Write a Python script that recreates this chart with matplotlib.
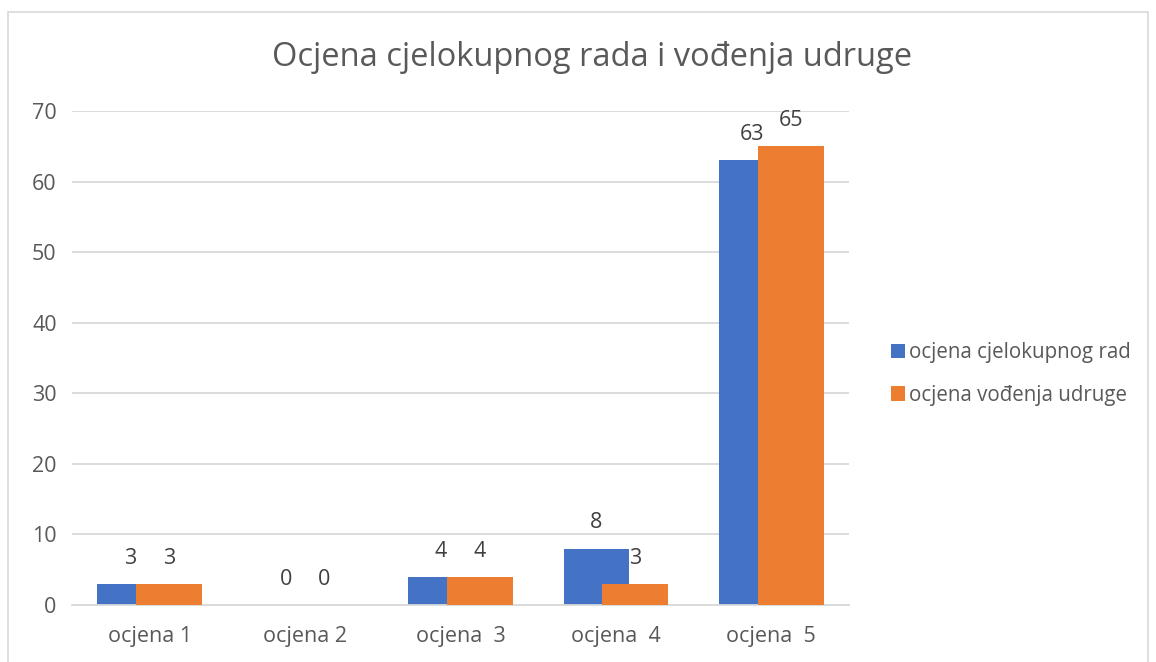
import numpy as np
import matplotlib
matplotlib.use("Agg")
import matplotlib.pyplot as plt
from matplotlib.patches import Rectangle

plt.rcParams['font.family'] = ['Open Sans', 'DejaVu Sans']

kategorije = ["ocjena 1", "ocjena 2", "ocjena  3", "ocjena  4", "ocjena  5"]
rad = [3, 0, 4, 8, 63]
udruga = [3, 0, 4, 3, 65]
nazivi = ["ocjena cjelokupnog rad", "ocjena vođenja udruge"]
boje = ["#4472C4", "#ED7D31"]

tekst = "#595959"
mreza = "#D9D9D9"

fig = plt.figure(figsize=(11.56, 6.62), dpi=100)
ax = fig.add_axes([72 / 1156, 57 / 662, 777 / 1156, 494 / 662])

x = np.arange(len(kategorije))
sirina = 0.424
pomak = 0.125
for i, (vr, ime, c) in enumerate(zip([rad, udruga], nazivi, boje)):
    xs = x + (-pomak if i == 0 else pomak)
    ax.bar(xs, vr, sirina, color=c, label=ime, zorder=2 + i)
    for xx, v in zip(xs, vr):
        ax.annotate(str(v), (xx, v), xytext=(0, 18.5), textcoords="offset points",
                    ha="center", va="center", fontsize=15.5, color="#404040", zorder=5)

ax.set_xlim(-0.5, len(kategorije) - 0.5)
ax.set_ylim(0, 70)
ax.set_yticks(range(0, 71, 10))
ax.set_xticks(x)
ax.set_xticklabels(kategorije)
ax.tick_params(length=0, labelsize=15.5, colors=tekst)
ax.tick_params(axis="y", pad=11)
ax.tick_params(axis="x", pad=15)
ax.grid(axis="y", color=mreza, lw=1.3, zorder=0)
for s in ["top", "right", "left"]:
    ax.spines[s].set_visible(False)
ax.spines["bottom"].set_color(mreza)
ax.spines["bottom"].set_linewidth(1.3)

fig.text(592 / 1156, 1 - 58 / 662, "Ocjena cjelokupnog rada i vođenja udruge",
         ha="center", va="center", fontsize=23.5, color=tekst)

ax.legend(loc="center left", bbox_to_anchor=(872 / 1156, 1 - 374 / 662),
          bbox_transform=fig.transFigure, frameon=False, fontsize=14.8,
          labelcolor=tekst, handlelength=0.7, handleheight=0.7,
          handletextpad=0.2, labelspacing=1.05)

fig.patches.append(Rectangle((8 / 1156, -0.05), 1140 / 1156, 1 - 12 / 662 + 0.05,
                             transform=fig.transFigure, fill=False,
                             edgecolor="#D9D9D9", lw=1.2))

fig.savefig("out.png", dpi=100)
